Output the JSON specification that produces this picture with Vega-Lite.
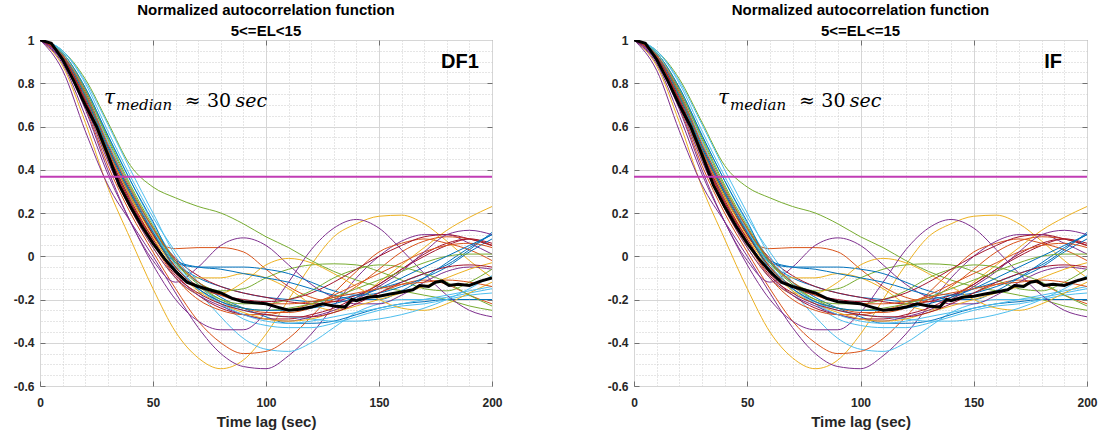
{
"$schema": "https://vega.github.io/schema/vega-lite/v6.json",
"padding": {"left": 0, "top": 2, "right": 0, "bottom": 0},
"background": "white",
"spacing": 91,
"datasets": {
"acf": [
{"id":"s01","lag":0,"r":1},{"id":"s01","lag":10,"r":0.93},{"id":"s01","lag":20,"r":0.74},{"id":"s01","lag":30,"r":0.50},{"id":"s01","lag":40,"r":0.28},{"id":"s01","lag":50,"r":0.10},{"id":"s01","lag":60,"r":-0.03},{"id":"s01","lag":70,"r":-0.10},{"id":"s01","lag":80,"r":-0.14},{"id":"s01","lag":90,"r":-0.17},{"id":"s01","lag":100,"r":-0.19},{"id":"s01","lag":110,"r":-0.20},{"id":"s01","lag":120,"r":-0.21},{"id":"s01","lag":130,"r":-0.20},{"id":"s01","lag":140,"r":-0.18},{"id":"s01","lag":150,"r":-0.15},{"id":"s01","lag":160,"r":-0.12},{"id":"s01","lag":170,"r":-0.08},{"id":"s01","lag":180,"r":-0.04},{"id":"s01","lag":190,"r":0.03},{"id":"s01","lag":200,"r":0.11},
{"id":"s02","lag":0,"r":1},{"id":"s02","lag":10,"r":0.92},{"id":"s02","lag":20,"r":0.72},{"id":"s02","lag":30,"r":0.47},{"id":"s02","lag":40,"r":0.25},{"id":"s02","lag":50,"r":0.09},{"id":"s02","lag":60,"r":0.035},{"id":"s02","lag":70,"r":0.04},{"id":"s02","lag":80,"r":0.04},{"id":"s02","lag":90,"r":0.02},{"id":"s02","lag":100,"r":-0.06},{"id":"s02","lag":110,"r":-0.14},{"id":"s02","lag":120,"r":-0.19},{"id":"s02","lag":130,"r":-0.21},{"id":"s02","lag":140,"r":-0.20},{"id":"s02","lag":150,"r":-0.17},{"id":"s02","lag":160,"r":-0.13},{"id":"s02","lag":170,"r":-0.11},{"id":"s02","lag":180,"r":-0.13},{"id":"s02","lag":190,"r":-0.18},{"id":"s02","lag":200,"r":-0.22},
{"id":"s03","lag":0,"r":1},{"id":"s03","lag":10,"r":0.88},{"id":"s03","lag":20,"r":0.62},{"id":"s03","lag":30,"r":0.32},{"id":"s03","lag":40,"r":0.08},{"id":"s03","lag":50,"r":-0.15},{"id":"s03","lag":60,"r":-0.35},{"id":"s03","lag":70,"r":-0.47},{"id":"s03","lag":80,"r":-0.52},{"id":"s03","lag":90,"r":-0.48},{"id":"s03","lag":100,"r":-0.36},{"id":"s03","lag":110,"r":-0.20},{"id":"s03","lag":120,"r":-0.04},{"id":"s03","lag":130,"r":0.09},{"id":"s03","lag":140,"r":0.15},{"id":"s03","lag":150,"r":0.185},{"id":"s03","lag":160,"r":0.19},{"id":"s03","lag":170,"r":0.15},{"id":"s03","lag":180,"r":0.07},{"id":"s03","lag":190,"r":-0.02},{"id":"s03","lag":200,"r":-0.10},
{"id":"s04","lag":0,"r":1},{"id":"s04","lag":10,"r":0.86},{"id":"s04","lag":20,"r":0.58},{"id":"s04","lag":30,"r":0.33},{"id":"s04","lag":40,"r":0.16},{"id":"s04","lag":50,"r":0.00},{"id":"s04","lag":60,"r":-0.17},{"id":"s04","lag":70,"r":-0.33},{"id":"s04","lag":80,"r":-0.45},{"id":"s04","lag":90,"r":-0.51},{"id":"s04","lag":100,"r":-0.52},{"id":"s04","lag":110,"r":-0.46},{"id":"s04","lag":120,"r":-0.36},{"id":"s04","lag":130,"r":-0.23},{"id":"s04","lag":140,"r":-0.10},{"id":"s04","lag":150,"r":0.00},{"id":"s04","lag":160,"r":0.07},{"id":"s04","lag":170,"r":0.10},{"id":"s04","lag":180,"r":0.10},{"id":"s04","lag":190,"r":0.06},{"id":"s04","lag":200,"r":0.01},
{"id":"s05","lag":0,"r":1},{"id":"s05","lag":10,"r":0.95},{"id":"s05","lag":20,"r":0.82},{"id":"s05","lag":30,"r":0.62},{"id":"s05","lag":40,"r":0.42},{"id":"s05","lag":50,"r":0.32},{"id":"s05","lag":60,"r":0.27},{"id":"s05","lag":70,"r":0.23},{"id":"s05","lag":80,"r":0.20},{"id":"s05","lag":90,"r":0.15},{"id":"s05","lag":100,"r":0.09},{"id":"s05","lag":110,"r":0.04},{"id":"s05","lag":120,"r":-0.02},{"id":"s05","lag":130,"r":-0.07},{"id":"s05","lag":140,"r":-0.11},{"id":"s05","lag":150,"r":-0.14},{"id":"s05","lag":160,"r":-0.16},{"id":"s05","lag":170,"r":-0.18},{"id":"s05","lag":180,"r":-0.20},{"id":"s05","lag":190,"r":-0.23},{"id":"s05","lag":200,"r":-0.25},
{"id":"s06","lag":0,"r":1},{"id":"s06","lag":10,"r":0.94},{"id":"s06","lag":20,"r":0.78},{"id":"s06","lag":30,"r":0.56},{"id":"s06","lag":40,"r":0.35},{"id":"s06","lag":50,"r":0.15},{"id":"s06","lag":60,"r":-0.02},{"id":"s06","lag":70,"r":-0.16},{"id":"s06","lag":80,"r":-0.28},{"id":"s06","lag":90,"r":-0.38},{"id":"s06","lag":100,"r":-0.43},{"id":"s06","lag":110,"r":-0.44},{"id":"s06","lag":120,"r":-0.40},{"id":"s06","lag":130,"r":-0.33},{"id":"s06","lag":140,"r":-0.26},{"id":"s06","lag":150,"r":-0.22},{"id":"s06","lag":160,"r":-0.20},{"id":"s06","lag":170,"r":-0.20},{"id":"s06","lag":180,"r":-0.19},{"id":"s06","lag":190,"r":-0.17},{"id":"s06","lag":200,"r":-0.15},
{"id":"s07","lag":0,"r":1},{"id":"s07","lag":10,"r":0.93},{"id":"s07","lag":20,"r":0.75},{"id":"s07","lag":30,"r":0.51},{"id":"s07","lag":40,"r":0.30},{"id":"s07","lag":50,"r":0.12},{"id":"s07","lag":60,"r":-0.01},{"id":"s07","lag":70,"r":-0.09},{"id":"s07","lag":80,"r":-0.14},{"id":"s07","lag":90,"r":-0.17},{"id":"s07","lag":100,"r":-0.19},{"id":"s07","lag":110,"r":-0.21},{"id":"s07","lag":120,"r":-0.22},{"id":"s07","lag":130,"r":-0.21},{"id":"s07","lag":140,"r":-0.18},{"id":"s07","lag":150,"r":-0.13},{"id":"s07","lag":160,"r":-0.06},{"id":"s07","lag":170,"r":0.01},{"id":"s07","lag":180,"r":0.06},{"id":"s07","lag":190,"r":0.08},{"id":"s07","lag":200,"r":0.05},
{"id":"s08","lag":0,"r":1},{"id":"s08","lag":10,"r":0.92},{"id":"s08","lag":20,"r":0.72},{"id":"s08","lag":30,"r":0.47},{"id":"s08","lag":40,"r":0.27},{"id":"s08","lag":50,"r":0.11},{"id":"s08","lag":60,"r":-0.03},{"id":"s08","lag":70,"r":-0.12},{"id":"s08","lag":80,"r":-0.19},{"id":"s08","lag":90,"r":-0.24},{"id":"s08","lag":100,"r":-0.28},{"id":"s08","lag":110,"r":-0.31},{"id":"s08","lag":120,"r":-0.31},{"id":"s08","lag":130,"r":-0.30},{"id":"s08","lag":140,"r":-0.27},{"id":"s08","lag":150,"r":-0.24},{"id":"s08","lag":160,"r":-0.22},{"id":"s08","lag":170,"r":-0.21},{"id":"s08","lag":180,"r":-0.20},{"id":"s08","lag":190,"r":-0.20},{"id":"s08","lag":200,"r":-0.20},
{"id":"s09","lag":0,"r":1},{"id":"s09","lag":10,"r":0.91},{"id":"s09","lag":20,"r":0.69},{"id":"s09","lag":30,"r":0.42},{"id":"s09","lag":40,"r":0.20},{"id":"s09","lag":50,"r":0.02},{"id":"s09","lag":60,"r":-0.15},{"id":"s09","lag":70,"r":-0.30},{"id":"s09","lag":80,"r":-0.40},{"id":"s09","lag":90,"r":-0.45},{"id":"s09","lag":100,"r":-0.44},{"id":"s09","lag":110,"r":-0.38},{"id":"s09","lag":120,"r":-0.28},{"id":"s09","lag":130,"r":-0.17},{"id":"s09","lag":140,"r":-0.07},{"id":"s09","lag":150,"r":0.02},{"id":"s09","lag":160,"r":0.06},{"id":"s09","lag":170,"r":0.08},{"id":"s09","lag":180,"r":0.06},{"id":"s09","lag":190,"r":0.03},{"id":"s09","lag":200,"r":-0.02},
{"id":"s10","lag":0,"r":1},{"id":"s10","lag":10,"r":0.93},{"id":"s10","lag":20,"r":0.74},{"id":"s10","lag":30,"r":0.49},{"id":"s10","lag":40,"r":0.27},{"id":"s10","lag":50,"r":0.08},{"id":"s10","lag":60,"r":-0.04},{"id":"s10","lag":70,"r":-0.10},{"id":"s10","lag":80,"r":-0.10},{"id":"s10","lag":90,"r":-0.08},{"id":"s10","lag":100,"r":-0.10},{"id":"s10","lag":110,"r":-0.15},{"id":"s10","lag":120,"r":-0.22},{"id":"s10","lag":130,"r":-0.25},{"id":"s10","lag":140,"r":-0.20},{"id":"s10","lag":150,"r":-0.12},{"id":"s10","lag":160,"r":-0.04},{"id":"s10","lag":170,"r":0.04},{"id":"s10","lag":180,"r":0.12},{"id":"s10","lag":190,"r":0.18},{"id":"s10","lag":200,"r":0.23},
{"id":"s11","lag":0,"r":1},{"id":"s11","lag":10,"r":0.90},{"id":"s11","lag":20,"r":0.68},{"id":"s11","lag":30,"r":0.40},{"id":"s11","lag":40,"r":0.16},{"id":"s11","lag":50,"r":-0.02},{"id":"s11","lag":60,"r":-0.12},{"id":"s11","lag":70,"r":-0.05},{"id":"s11","lag":80,"r":0.05},{"id":"s11","lag":90,"r":0.085},{"id":"s11","lag":100,"r":0.05},{"id":"s11","lag":110,"r":-0.04},{"id":"s11","lag":120,"r":-0.13},{"id":"s11","lag":130,"r":-0.19},{"id":"s11","lag":140,"r":-0.22},{"id":"s11","lag":150,"r":-0.22},{"id":"s11","lag":160,"r":-0.18},{"id":"s11","lag":170,"r":-0.12},{"id":"s11","lag":180,"r":-0.07},{"id":"s11","lag":190,"r":-0.05},{"id":"s11","lag":200,"r":-0.06},
{"id":"s12","lag":0,"r":1},{"id":"s12","lag":10,"r":0.94},{"id":"s12","lag":20,"r":0.77},{"id":"s12","lag":30,"r":0.55},{"id":"s12","lag":40,"r":0.33},{"id":"s12","lag":50,"r":0.14},{"id":"s12","lag":60,"r":-0.02},{"id":"s12","lag":70,"r":-0.12},{"id":"s12","lag":80,"r":-0.16},{"id":"s12","lag":90,"r":-0.15},{"id":"s12","lag":100,"r":-0.10},{"id":"s12","lag":110,"r":-0.06},{"id":"s12","lag":120,"r":-0.04},{"id":"s12","lag":130,"r":-0.035},{"id":"s12","lag":140,"r":-0.04},{"id":"s12","lag":150,"r":-0.07},{"id":"s12","lag":160,"r":-0.11},{"id":"s12","lag":170,"r":-0.15},{"id":"s12","lag":180,"r":-0.16},{"id":"s12","lag":190,"r":-0.12},{"id":"s12","lag":200,"r":-0.06},
{"id":"s13","lag":0,"r":1},{"id":"s13","lag":10,"r":0.95},{"id":"s13","lag":20,"r":0.80},{"id":"s13","lag":30,"r":0.58},{"id":"s13","lag":40,"r":0.37},{"id":"s13","lag":50,"r":0.18},{"id":"s13","lag":60,"r":0.02},{"id":"s13","lag":70,"r":-0.12},{"id":"s13","lag":80,"r":-0.22},{"id":"s13","lag":90,"r":-0.29},{"id":"s13","lag":100,"r":-0.32},{"id":"s13","lag":110,"r":-0.33},{"id":"s13","lag":120,"r":-0.33},{"id":"s13","lag":130,"r":-0.31},{"id":"s13","lag":140,"r":-0.28},{"id":"s13","lag":150,"r":-0.25},{"id":"s13","lag":160,"r":-0.23},{"id":"s13","lag":170,"r":-0.22},{"id":"s13","lag":180,"r":-0.20},{"id":"s13","lag":190,"r":-0.18},{"id":"s13","lag":200,"r":-0.17},
{"id":"s14","lag":0,"r":1},{"id":"s14","lag":10,"r":0.92},{"id":"s14","lag":20,"r":0.73},{"id":"s14","lag":30,"r":0.48},{"id":"s14","lag":40,"r":0.26},{"id":"s14","lag":50,"r":0.08},{"id":"s14","lag":60,"r":-0.08},{"id":"s14","lag":70,"r":-0.18},{"id":"s14","lag":80,"r":-0.24},{"id":"s14","lag":90,"r":-0.27},{"id":"s14","lag":100,"r":-0.29},{"id":"s14","lag":110,"r":-0.29},{"id":"s14","lag":120,"r":-0.27},{"id":"s14","lag":130,"r":-0.24},{"id":"s14","lag":140,"r":-0.19},{"id":"s14","lag":150,"r":-0.13},{"id":"s14","lag":160,"r":-0.06},{"id":"s14","lag":170,"r":0.00},{"id":"s14","lag":180,"r":0.05},{"id":"s14","lag":190,"r":0.08},{"id":"s14","lag":200,"r":0.06},
{"id":"s15","lag":0,"r":1},{"id":"s15","lag":10,"r":0.93},{"id":"s15","lag":20,"r":0.75},{"id":"s15","lag":30,"r":0.51},{"id":"s15","lag":40,"r":0.30},{"id":"s15","lag":50,"r":0.13},{"id":"s15","lag":60,"r":-0.03},{"id":"s15","lag":70,"r":-0.05},{"id":"s15","lag":80,"r":-0.05},{"id":"s15","lag":90,"r":-0.05},{"id":"s15","lag":100,"r":-0.06},{"id":"s15","lag":110,"r":-0.08},{"id":"s15","lag":120,"r":-0.12},{"id":"s15","lag":130,"r":-0.16},{"id":"s15","lag":140,"r":-0.18},{"id":"s15","lag":150,"r":-0.17},{"id":"s15","lag":160,"r":-0.14},{"id":"s15","lag":170,"r":-0.10},{"id":"s15","lag":180,"r":-0.05},{"id":"s15","lag":190,"r":0.02},{"id":"s15","lag":200,"r":0.08},
{"id":"s16","lag":0,"r":1},{"id":"s16","lag":10,"r":0.93},{"id":"s16","lag":20,"r":0.74},{"id":"s16","lag":30,"r":0.49},{"id":"s16","lag":40,"r":0.28},{"id":"s16","lag":50,"r":0.10},{"id":"s16","lag":60,"r":-0.05},{"id":"s16","lag":70,"r":-0.15},{"id":"s16","lag":80,"r":-0.21},{"id":"s16","lag":90,"r":-0.24},{"id":"s16","lag":100,"r":-0.26},{"id":"s16","lag":110,"r":-0.26},{"id":"s16","lag":120,"r":-0.24},{"id":"s16","lag":130,"r":-0.20},{"id":"s16","lag":140,"r":-0.14},{"id":"s16","lag":150,"r":-0.06},{"id":"s16","lag":160,"r":0.02},{"id":"s16","lag":170,"r":0.07},{"id":"s16","lag":180,"r":0.09},{"id":"s16","lag":190,"r":0.08},{"id":"s16","lag":200,"r":0.05},
{"id":"s17","lag":0,"r":1},{"id":"s17","lag":10,"r":0.92},{"id":"s17","lag":20,"r":0.71},{"id":"s17","lag":30,"r":0.45},{"id":"s17","lag":40,"r":0.22},{"id":"s17","lag":50,"r":0.04},{"id":"s17","lag":60,"r":-0.10},{"id":"s17","lag":70,"r":-0.17},{"id":"s17","lag":80,"r":-0.17},{"id":"s17","lag":90,"r":-0.12},{"id":"s17","lag":100,"r":-0.04},{"id":"s17","lag":110,"r":-0.01},{"id":"s17","lag":120,"r":-0.03},{"id":"s17","lag":130,"r":-0.08},{"id":"s17","lag":140,"r":-0.14},{"id":"s17","lag":150,"r":-0.20},{"id":"s17","lag":160,"r":-0.24},{"id":"s17","lag":170,"r":-0.25},{"id":"s17","lag":180,"r":-0.22},{"id":"s17","lag":190,"r":-0.17},{"id":"s17","lag":200,"r":-0.12},
{"id":"s18","lag":0,"r":1},{"id":"s18","lag":10,"r":0.89},{"id":"s18","lag":20,"r":0.65},{"id":"s18","lag":30,"r":0.38},{"id":"s18","lag":40,"r":0.16},{"id":"s18","lag":50,"r":-0.04},{"id":"s18","lag":60,"r":-0.20},{"id":"s18","lag":70,"r":-0.30},{"id":"s18","lag":80,"r":-0.34},{"id":"s18","lag":90,"r":-0.34},{"id":"s18","lag":100,"r":-0.26},{"id":"s18","lag":110,"r":-0.12},{"id":"s18","lag":120,"r":0.03},{"id":"s18","lag":130,"r":0.13},{"id":"s18","lag":140,"r":0.17},{"id":"s18","lag":150,"r":0.13},{"id":"s18","lag":160,"r":0.03},{"id":"s18","lag":170,"r":-0.08},{"id":"s18","lag":180,"r":-0.18},{"id":"s18","lag":190,"r":-0.25},{"id":"s18","lag":200,"r":-0.28},
{"id":"s19","lag":0,"r":1},{"id":"s19","lag":10,"r":0.93},{"id":"s19","lag":20,"r":0.75},{"id":"s19","lag":30,"r":0.50},{"id":"s19","lag":40,"r":0.29},{"id":"s19","lag":50,"r":0.11},{"id":"s19","lag":60,"r":-0.05},{"id":"s19","lag":70,"r":-0.14},{"id":"s19","lag":80,"r":-0.20},{"id":"s19","lag":90,"r":-0.22},{"id":"s19","lag":100,"r":-0.22},{"id":"s19","lag":110,"r":-0.20},{"id":"s19","lag":120,"r":-0.16},{"id":"s19","lag":130,"r":-0.10},{"id":"s19","lag":140,"r":-0.06},{"id":"s19","lag":150,"r":-0.04},{"id":"s19","lag":160,"r":-0.05},{"id":"s19","lag":170,"r":-0.08},{"id":"s19","lag":180,"r":-0.12},{"id":"s19","lag":190,"r":-0.18},{"id":"s19","lag":200,"r":-0.23},
{"id":"s20","lag":0,"r":1},{"id":"s20","lag":10,"r":0.95},{"id":"s20","lag":20,"r":0.81},{"id":"s20","lag":30,"r":0.61},{"id":"s20","lag":40,"r":0.40},{"id":"s20","lag":50,"r":0.20},{"id":"s20","lag":60,"r":0.00},{"id":"s20","lag":70,"r":-0.13},{"id":"s20","lag":80,"r":-0.21},{"id":"s20","lag":90,"r":-0.25},{"id":"s20","lag":100,"r":-0.27},{"id":"s20","lag":110,"r":-0.28},{"id":"s20","lag":120,"r":-0.29},{"id":"s20","lag":130,"r":-0.30},{"id":"s20","lag":140,"r":-0.30},{"id":"s20","lag":150,"r":-0.29},{"id":"s20","lag":160,"r":-0.27},{"id":"s20","lag":170,"r":-0.24},{"id":"s20","lag":180,"r":-0.20},{"id":"s20","lag":190,"r":-0.15},{"id":"s20","lag":200,"r":-0.09},
{"id":"s21","lag":0,"r":1},{"id":"s21","lag":10,"r":0.93},{"id":"s21","lag":20,"r":0.74},{"id":"s21","lag":30,"r":0.50},{"id":"s21","lag":40,"r":0.28},{"id":"s21","lag":50,"r":0.10},{"id":"s21","lag":60,"r":-0.05},{"id":"s21","lag":70,"r":-0.14},{"id":"s21","lag":80,"r":-0.18},{"id":"s21","lag":90,"r":-0.20},{"id":"s21","lag":100,"r":-0.21},{"id":"s21","lag":110,"r":-0.20},{"id":"s21","lag":120,"r":-0.17},{"id":"s21","lag":130,"r":-0.12},{"id":"s21","lag":140,"r":-0.06},{"id":"s21","lag":150,"r":0.00},{"id":"s21","lag":160,"r":0.05},{"id":"s21","lag":170,"r":0.09},{"id":"s21","lag":180,"r":0.10},{"id":"s21","lag":190,"r":0.08},{"id":"s21","lag":200,"r":0.05},
{"id":"s22","lag":0,"r":1},{"id":"s22","lag":10,"r":0.94},{"id":"s22","lag":20,"r":0.78},{"id":"s22","lag":30,"r":0.56},{"id":"s22","lag":40,"r":0.35},{"id":"s22","lag":50,"r":0.16},{"id":"s22","lag":60,"r":-0.02},{"id":"s22","lag":70,"r":-0.05},{"id":"s22","lag":80,"r":-0.06},{"id":"s22","lag":90,"r":-0.08},{"id":"s22","lag":100,"r":-0.10},{"id":"s22","lag":110,"r":-0.12},{"id":"s22","lag":120,"r":-0.15},{"id":"s22","lag":130,"r":-0.18},{"id":"s22","lag":140,"r":-0.20},{"id":"s22","lag":150,"r":-0.20},{"id":"s22","lag":160,"r":-0.16},{"id":"s22","lag":170,"r":-0.10},{"id":"s22","lag":180,"r":-0.03},{"id":"s22","lag":190,"r":0.04},{"id":"s22","lag":200,"r":0.10},
{"id":"s23","lag":0,"r":1},{"id":"s23","lag":10,"r":0.92},{"id":"s23","lag":20,"r":0.72},{"id":"s23","lag":30,"r":0.46},{"id":"s23","lag":40,"r":0.24},{"id":"s23","lag":50,"r":0.06},{"id":"s23","lag":60,"r":-0.10},{"id":"s23","lag":70,"r":-0.20},{"id":"s23","lag":80,"r":-0.25},{"id":"s23","lag":90,"r":-0.27},{"id":"s23","lag":100,"r":-0.27},{"id":"s23","lag":110,"r":-0.25},{"id":"s23","lag":120,"r":-0.22},{"id":"s23","lag":130,"r":-0.18},{"id":"s23","lag":140,"r":-0.13},{"id":"s23","lag":150,"r":-0.08},{"id":"s23","lag":160,"r":-0.03},{"id":"s23","lag":170,"r":0.02},{"id":"s23","lag":180,"r":0.05},{"id":"s23","lag":190,"r":0.06},{"id":"s23","lag":200,"r":0.04},
{"id":"s24","lag":0,"r":1},{"id":"s24","lag":10,"r":0.91},{"id":"s24","lag":20,"r":0.70},{"id":"s24","lag":30,"r":0.44},{"id":"s24","lag":40,"r":0.22},{"id":"s24","lag":50,"r":0.04},{"id":"s24","lag":60,"r":-0.10},{"id":"s24","lag":70,"r":-0.18},{"id":"s24","lag":80,"r":-0.23},{"id":"s24","lag":90,"r":-0.27},{"id":"s24","lag":100,"r":-0.29},{"id":"s24","lag":110,"r":-0.30},{"id":"s24","lag":120,"r":-0.28},{"id":"s24","lag":130,"r":-0.25},{"id":"s24","lag":140,"r":-0.20},{"id":"s24","lag":150,"r":-0.14},{"id":"s24","lag":160,"r":-0.07},{"id":"s24","lag":170,"r":0.02},{"id":"s24","lag":180,"r":0.10},{"id":"s24","lag":190,"r":0.12},{"id":"s24","lag":200,"r":0.10},
{"id":"s25","lag":0,"r":1},{"id":"s25","lag":10,"r":0.94},{"id":"s25","lag":20,"r":0.77},{"id":"s25","lag":30,"r":0.54},{"id":"s25","lag":40,"r":0.32},{"id":"s25","lag":50,"r":0.13},{"id":"s25","lag":60,"r":-0.03},{"id":"s25","lag":70,"r":-0.13},{"id":"s25","lag":80,"r":-0.20},{"id":"s25","lag":90,"r":-0.24},{"id":"s25","lag":100,"r":-0.25},{"id":"s25","lag":110,"r":-0.24},{"id":"s25","lag":120,"r":-0.22},{"id":"s25","lag":130,"r":-0.19},{"id":"s25","lag":140,"r":-0.15},{"id":"s25","lag":150,"r":-0.11},{"id":"s25","lag":160,"r":-0.07},{"id":"s25","lag":170,"r":-0.03},{"id":"s25","lag":180,"r":0.00},{"id":"s25","lag":190,"r":0.01},{"id":"s25","lag":200,"r":0.01},
{"id":"s26","lag":0,"r":1},{"id":"s26","lag":10,"r":0.93},{"id":"s26","lag":20,"r":0.74},{"id":"s26","lag":30,"r":0.50},{"id":"s26","lag":40,"r":0.28},{"id":"s26","lag":50,"r":0.09},{"id":"s26","lag":60,"r":-0.06},{"id":"s26","lag":70,"r":-0.16},{"id":"s26","lag":80,"r":-0.22},{"id":"s26","lag":90,"r":-0.26},{"id":"s26","lag":100,"r":-0.29},{"id":"s26","lag":110,"r":-0.30},{"id":"s26","lag":120,"r":-0.29},{"id":"s26","lag":130,"r":-0.26},{"id":"s26","lag":140,"r":-0.23},{"id":"s26","lag":150,"r":-0.20},{"id":"s26","lag":160,"r":-0.17},{"id":"s26","lag":170,"r":-0.14},{"id":"s26","lag":180,"r":-0.10},{"id":"s26","lag":190,"r":-0.06},{"id":"s26","lag":200,"r":-0.03},
{"id":"s27","lag":0,"r":1},{"id":"s27","lag":10,"r":0.94},{"id":"s27","lag":20,"r":0.76},{"id":"s27","lag":30,"r":0.53},{"id":"s27","lag":40,"r":0.31},{"id":"s27","lag":50,"r":0.12},{"id":"s27","lag":60,"r":-0.04},{"id":"s27","lag":70,"r":-0.15},{"id":"s27","lag":80,"r":-0.22},{"id":"s27","lag":90,"r":-0.27},{"id":"s27","lag":100,"r":-0.30},{"id":"s27","lag":110,"r":-0.31},{"id":"s27","lag":120,"r":-0.30},{"id":"s27","lag":130,"r":-0.28},{"id":"s27","lag":140,"r":-0.26},{"id":"s27","lag":150,"r":-0.24},{"id":"s27","lag":160,"r":-0.22},{"id":"s27","lag":170,"r":-0.20},{"id":"s27","lag":180,"r":-0.18},{"id":"s27","lag":190,"r":-0.16},{"id":"s27","lag":200,"r":-0.14},
{"id":"s28","lag":0,"r":1},{"id":"s28","lag":10,"r":0.93},{"id":"s28","lag":20,"r":0.74},{"id":"s28","lag":30,"r":0.50},{"id":"s28","lag":40,"r":0.29},{"id":"s28","lag":50,"r":0.11},{"id":"s28","lag":60,"r":-0.06},{"id":"s28","lag":70,"r":-0.15},{"id":"s28","lag":80,"r":-0.21},{"id":"s28","lag":90,"r":-0.24},{"id":"s28","lag":100,"r":-0.25},{"id":"s28","lag":110,"r":-0.25},{"id":"s28","lag":120,"r":-0.24},{"id":"s28","lag":130,"r":-0.22},{"id":"s28","lag":140,"r":-0.19},{"id":"s28","lag":150,"r":-0.15},{"id":"s28","lag":160,"r":-0.10},{"id":"s28","lag":170,"r":-0.05},{"id":"s28","lag":180,"r":0.00},{"id":"s28","lag":190,"r":0.05},{"id":"s28","lag":200,"r":0.10},
{"id":"s29","lag":0,"r":1},{"id":"s29","lag":10,"r":0.92},{"id":"s29","lag":20,"r":0.72},{"id":"s29","lag":30,"r":0.47},{"id":"s29","lag":40,"r":0.25},{"id":"s29","lag":50,"r":0.07},{"id":"s29","lag":60,"r":-0.09},{"id":"s29","lag":70,"r":-0.17},{"id":"s29","lag":80,"r":-0.22},{"id":"s29","lag":90,"r":-0.25},{"id":"s29","lag":100,"r":-0.27},{"id":"s29","lag":110,"r":-0.28},{"id":"s29","lag":120,"r":-0.28},{"id":"s29","lag":130,"r":-0.26},{"id":"s29","lag":140,"r":-0.22},{"id":"s29","lag":150,"r":-0.17},{"id":"s29","lag":160,"r":-0.12},{"id":"s29","lag":170,"r":-0.08},{"id":"s29","lag":180,"r":-0.05},{"id":"s29","lag":190,"r":-0.04},{"id":"s29","lag":200,"r":-0.05},
{"id":"s30","lag":0,"r":1},{"id":"s30","lag":10,"r":0.93},{"id":"s30","lag":20,"r":0.76},{"id":"s30","lag":30,"r":0.52},{"id":"s30","lag":40,"r":0.31},{"id":"s30","lag":50,"r":0.13},{"id":"s30","lag":60,"r":-0.02},{"id":"s30","lag":70,"r":-0.12},{"id":"s30","lag":80,"r":-0.18},{"id":"s30","lag":90,"r":-0.21},{"id":"s30","lag":100,"r":-0.22},{"id":"s30","lag":110,"r":-0.22},{"id":"s30","lag":120,"r":-0.21},{"id":"s30","lag":130,"r":-0.19},{"id":"s30","lag":140,"r":-0.17},{"id":"s30","lag":150,"r":-0.15},{"id":"s30","lag":160,"r":-0.13},{"id":"s30","lag":170,"r":-0.12},{"id":"s30","lag":180,"r":-0.11},{"id":"s30","lag":190,"r":-0.12},{"id":"s30","lag":200,"r":-0.14}
],
"median": [
{"lag":0,"r":1},{"lag":5,"r":0.985},{"lag":10,"r":0.91},{"lag":15,"r":0.81},{"lag":20,"r":0.70},{"lag":25,"r":0.60},{"lag":30,"r":0.47},{"lag":35,"r":0.33},{"lag":40,"r":0.23},{"lag":45,"r":0.14},{"lag":50,"r":0.06},{"lag":55,"r":-0.01},{"lag":60,"r":-0.07},{"lag":65,"r":-0.12},{"lag":70,"r":-0.14},{"lag":75,"r":-0.155},{"lag":80,"r":-0.17},{"lag":85,"r":-0.195},{"lag":90,"r":-0.21},{"lag":95,"r":-0.215},{"lag":100,"r":-0.22},{"lag":105,"r":-0.235},{"lag":110,"r":-0.25},{"lag":115,"r":-0.245},{"lag":120,"r":-0.235},{"lag":125,"r":-0.22},{"lag":130,"r":-0.23},{"lag":135,"r":-0.235},{"lag":138,"r":-0.20},{"lag":140,"r":-0.205},{"lag":145,"r":-0.19},{"lag":150,"r":-0.185},{"lag":155,"r":-0.175},{"lag":160,"r":-0.165},{"lag":165,"r":-0.155},{"lag":168,"r":-0.135},{"lag":172,"r":-0.14},{"lag":175,"r":-0.12},{"lag":178,"r":-0.115},{"lag":181,"r":-0.135},{"lag":185,"r":-0.13},{"lag":190,"r":-0.135},{"lag":195,"r":-0.115},{"lag":200,"r":-0.10}
]
},
"hconcat": [
{
"width": 452, "height": 346,
"title": {"text": ["Normalized autocorrelation function", "5<=EL<15"]},
"resolve": {"axis": {"x": "independent", "y": "independent"}},
"layer": [
{"data": {"values": [{}]},
 "mark": {"type": "point", "opacity": 0},
 "encoding": {
  "x": {"datum": 0, "type": "quantitative", "scale": {"domain": [0, 200], "nice": false, "zero": false},
        "axis": {"orient": "top", "title": null, "labels": false, "ticks": false, "domain": false, "grid": true, "gridDash": [1, 2], "gridColor": "#cdcdcd", "minExtent": 0, "maxExtent": 0,
                 "values": [10,20,30,40,60,70,80,90,110,120,130,140,160,170,180,190]}},
  "y": {"datum": 0, "type": "quantitative", "scale": {"domain": [-0.6, 1], "nice": false, "zero": false},
        "axis": {"orient": "right", "title": null, "labels": false, "ticks": false, "domain": false, "grid": true, "gridDash": [1, 2], "gridColor": "#cdcdcd", "minExtent": 0, "maxExtent": 0,
                 "values": [-0.55,-0.5,-0.45,-0.35,-0.3,-0.25,-0.15,-0.1,-0.05,0.05,0.1,0.15,0.25,0.3,0.35,0.45,0.5,0.55,0.65,0.7,0.75,0.85,0.9,0.95]}}
 }},
{"data": {"values": [{}]},
 "mark": {"type": "point", "opacity": 0},
 "encoding": {
  "x": {"datum": 0, "type": "quantitative",
        "axis": {"orient": "top", "title": null, "labels": false, "ticks": true, "domain": false, "grid": false, "minExtent": 0, "maxExtent": 0, "values": [50, 100, 150]}},
  "y": {"datum": 0, "type": "quantitative",
        "axis": {"orient": "right", "title": null, "labels": false, "ticks": true, "domain": false, "grid": false, "minExtent": 0, "maxExtent": 0, "values": [-0.4, -0.2, 0, 0.2, 0.4, 0.6, 0.8]}}
 }},
{"data": {"name": "acf"},
 "mark": {"type": "line", "interpolate": "monotone", "strokeWidth": 1, "clip": true},
 "encoding": {
  "x": {"field": "lag", "type": "quantitative",
        "axis": {"orient": "bottom", "title": "Time lag (sec)", "values": [0, 50, 100, 150, 200], "grid": true, "gridColor": "#d6d6d6"}},
  "y": {"field": "r", "type": "quantitative",
        "axis": {"orient": "left", "title": null, "values": [-0.6, -0.4, -0.2, 0, 0.2, 0.4, 0.6, 0.8, 1], "grid": true, "gridColor": "#d6d6d6",
                 "labelExpr": "replace(format(datum.value, '.1~f'), '\u2212', '-')"}},
  "color": {"field": "id", "type": "nominal", "legend": null,
            "scale": {"domain": ["s01","s02","s03","s04","s05","s06","s07","s08","s09","s10","s11","s12","s13","s14","s15","s16","s17","s18","s19","s20","s21","s22","s23","s24","s25","s26","s27","s28","s29","s30"],
                      "range": ["#0072BD","#D95319","#EDB120","#7E2F8E","#77AC30","#4DBEEE","#A2142F","#0072BD","#D95319","#EDB120","#7E2F8E","#77AC30","#4DBEEE","#A2142F","#0072BD","#D95319","#EDB120","#7E2F8E","#77AC30","#4DBEEE","#A2142F","#0072BD","#D95319","#7E2F8E","#77AC30","#EDB120","#4DBEEE","#0072BD","#A2142F","#D95319"]}}
 }},
{"data": {"name": "median"},
 "mark": {"type": "line", "color": "#000000", "strokeWidth": 3, "clip": true},
 "encoding": {"x": {"field": "lag", "type": "quantitative", "axis": null}, "y": {"field": "r", "type": "quantitative", "axis": null}}},
{"data": {"values": [{}]},
 "mark": {"type": "rule", "color": "#C03CB4", "strokeWidth": 2},
 "encoding": {"y": {"datum": 0.3679, "type": "quantitative", "axis": null}}},
{"data": {"values": [{}]},
 "mark": {"type": "text", "text": "DF1", "font": "Liberation Sans", "fontWeight": "bold", "fontSize": 20, "align": "right", "baseline": "alphabetic", "color": "#000000"},
 "encoding": {"x": {"datum": 194.2, "type": "quantitative", "axis": null}, "y": {"datum": 0.871, "type": "quantitative", "axis": null}}},
{"data": {"values": [{}]},
 "mark": {"type": "text", "text": "τ", "font": "DejaVu Serif", "fontStyle": "italic", "fontSize": 20, "align": "left", "baseline": "alphabetic", "color": "#000000"},
 "encoding": {"x": {"datum": 28.3, "type": "quantitative", "axis": null}, "y": {"datum": 0.705, "type": "quantitative", "axis": null}}},
{"data": {"values": [{}]},
 "mark": {"type": "text", "text": "median", "font": "DejaVu Serif", "fontStyle": "italic", "fontSize": 15, "align": "left", "baseline": "alphabetic", "color": "#000000"},
 "encoding": {"x": {"datum": 33.6, "type": "quantitative", "axis": null}, "y": {"datum": 0.676, "type": "quantitative", "axis": null}}},
{"data": {"values": [{}]},
 "mark": {"type": "text", "text": "≈", "font": "DejaVu Serif", "fontSize": 19, "align": "left", "baseline": "alphabetic", "color": "#000000"},
 "encoding": {"x": {"datum": 64.0, "type": "quantitative", "axis": null}, "y": {"datum": 0.692, "type": "quantitative", "axis": null}}},
{"data": {"values": [{}]},
 "mark": {"type": "text", "text": "30", "font": "DejaVu Serif", "fontSize": 19, "align": "left", "baseline": "alphabetic", "color": "#000000"},
 "encoding": {"x": {"datum": 73.9, "type": "quantitative", "axis": null}, "y": {"datum": 0.692, "type": "quantitative", "axis": null}}},
{"data": {"values": [{}]},
 "mark": {"type": "text", "text": "sec", "font": "DejaVu Serif", "fontStyle": "italic", "fontSize": 19, "align": "left", "baseline": "alphabetic", "color": "#000000"},
 "encoding": {"x": {"datum": 86.5, "type": "quantitative", "axis": null}, "y": {"datum": 0.692, "type": "quantitative", "axis": null}}}
]
},
{
"width": 453, "height": 346,
"title": {"text": ["Normalized autocorrelation function", "5<=EL<=15"]},
"resolve": {"axis": {"x": "independent", "y": "independent"}},
"layer": [
{"data": {"values": [{}]},
 "mark": {"type": "point", "opacity": 0},
 "encoding": {
  "x": {"datum": 0, "type": "quantitative", "scale": {"domain": [0, 200], "nice": false, "zero": false},
        "axis": {"orient": "top", "title": null, "labels": false, "ticks": false, "domain": false, "grid": true, "gridDash": [1, 2], "gridColor": "#cdcdcd", "minExtent": 0, "maxExtent": 0,
                 "values": [10,20,30,40,60,70,80,90,110,120,130,140,160,170,180,190]}},
  "y": {"datum": 0, "type": "quantitative", "scale": {"domain": [-0.6, 1], "nice": false, "zero": false},
        "axis": {"orient": "right", "title": null, "labels": false, "ticks": false, "domain": false, "grid": true, "gridDash": [1, 2], "gridColor": "#cdcdcd", "minExtent": 0, "maxExtent": 0,
                 "values": [-0.55,-0.5,-0.45,-0.35,-0.3,-0.25,-0.15,-0.1,-0.05,0.05,0.1,0.15,0.25,0.3,0.35,0.45,0.5,0.55,0.65,0.7,0.75,0.85,0.9,0.95]}}
 }},
{"data": {"values": [{}]},
 "mark": {"type": "point", "opacity": 0},
 "encoding": {
  "x": {"datum": 0, "type": "quantitative",
        "axis": {"orient": "top", "title": null, "labels": false, "ticks": true, "domain": false, "grid": false, "minExtent": 0, "maxExtent": 0, "values": [50, 100, 150]}},
  "y": {"datum": 0, "type": "quantitative",
        "axis": {"orient": "right", "title": null, "labels": false, "ticks": true, "domain": false, "grid": false, "minExtent": 0, "maxExtent": 0, "values": [-0.4, -0.2, 0, 0.2, 0.4, 0.6, 0.8]}}
 }},
{"data": {"name": "acf"},
 "mark": {"type": "line", "interpolate": "monotone", "strokeWidth": 1, "clip": true},
 "encoding": {
  "x": {"field": "lag", "type": "quantitative",
        "axis": {"orient": "bottom", "title": "Time lag (sec)", "values": [0, 50, 100, 150, 200], "grid": true, "gridColor": "#d6d6d6"}},
  "y": {"field": "r", "type": "quantitative",
        "axis": {"orient": "left", "title": null, "values": [-0.6, -0.4, -0.2, 0, 0.2, 0.4, 0.6, 0.8, 1], "grid": true, "gridColor": "#d6d6d6",
                 "labelExpr": "replace(format(datum.value, '.1~f'), '\u2212', '-')"}},
  "color": {"field": "id", "type": "nominal", "legend": null}
 }},
{"data": {"name": "median"},
 "mark": {"type": "line", "color": "#000000", "strokeWidth": 3, "clip": true},
 "encoding": {"x": {"field": "lag", "type": "quantitative", "axis": null}, "y": {"field": "r", "type": "quantitative", "axis": null}}},
{"data": {"values": [{}]},
 "mark": {"type": "rule", "color": "#C03CB4", "strokeWidth": 2},
 "encoding": {"y": {"datum": 0.3679, "type": "quantitative", "axis": null}}},
{"data": {"values": [{}]},
 "mark": {"type": "text", "text": "IF", "font": "Liberation Sans", "fontWeight": "bold", "fontSize": 20, "align": "right", "baseline": "alphabetic", "color": "#000000"},
 "encoding": {"x": {"datum": 189, "type": "quantitative", "axis": null}, "y": {"datum": 0.871, "type": "quantitative", "axis": null}}},
{"data": {"values": [{}]},
 "mark": {"type": "text", "text": "τ", "font": "DejaVu Serif", "fontStyle": "italic", "fontSize": 20, "align": "left", "baseline": "alphabetic", "color": "#000000"},
 "encoding": {"x": {"datum": 37.1, "type": "quantitative", "axis": null}, "y": {"datum": 0.705, "type": "quantitative", "axis": null}}},
{"data": {"values": [{}]},
 "mark": {"type": "text", "text": "median", "font": "DejaVu Serif", "fontStyle": "italic", "fontSize": 15, "align": "left", "baseline": "alphabetic", "color": "#000000"},
 "encoding": {"x": {"datum": 42.4, "type": "quantitative", "axis": null}, "y": {"datum": 0.676, "type": "quantitative", "axis": null}}},
{"data": {"values": [{}]},
 "mark": {"type": "text", "text": "≈", "font": "DejaVu Serif", "fontSize": 19, "align": "left", "baseline": "alphabetic", "color": "#000000"},
 "encoding": {"x": {"datum": 72.8, "type": "quantitative", "axis": null}, "y": {"datum": 0.692, "type": "quantitative", "axis": null}}},
{"data": {"values": [{}]},
 "mark": {"type": "text", "text": "30", "font": "DejaVu Serif", "fontSize": 19, "align": "left", "baseline": "alphabetic", "color": "#000000"},
 "encoding": {"x": {"datum": 82.7, "type": "quantitative", "axis": null}, "y": {"datum": 0.692, "type": "quantitative", "axis": null}}},
{"data": {"values": [{}]},
 "mark": {"type": "text", "text": "sec", "font": "DejaVu Serif", "fontStyle": "italic", "fontSize": 19, "align": "left", "baseline": "alphabetic", "color": "#000000"},
 "encoding": {"x": {"datum": 95.3, "type": "quantitative", "axis": null}, "y": {"datum": 0.692, "type": "quantitative", "axis": null}}}
]
}
],
"config": {
 "font": "Liberation Sans",
 "view": {"stroke": "#707070", "strokeWidth": 1},
 "title": {"font": "Liberation Sans", "fontSize": 15, "fontWeight": "bold", "color": "#000000", "lineHeight": 21, "offset": -5, "anchor": "middle"},
 "axis": {"domain": false, "labelFont": "Liberation Sans", "labelFontWeight": "bold", "labelFontSize": 12, "labelColor": "#262626",
          "titleFont": "Liberation Sans", "titleFontWeight": "bold", "titleFontSize": 15, "titleColor": "#262626",
          "tickColor": "#707070", "tickSize": -5, "labelOverlap": false, "labelFlush": false, "gridWidth": 1},
 "axisLeft": {"labelPadding": 11, "minExtent": 39, "maxExtent": 39},
 "axisBottom": {"labelPadding": 16, "titlePadding": 6}
}
}
